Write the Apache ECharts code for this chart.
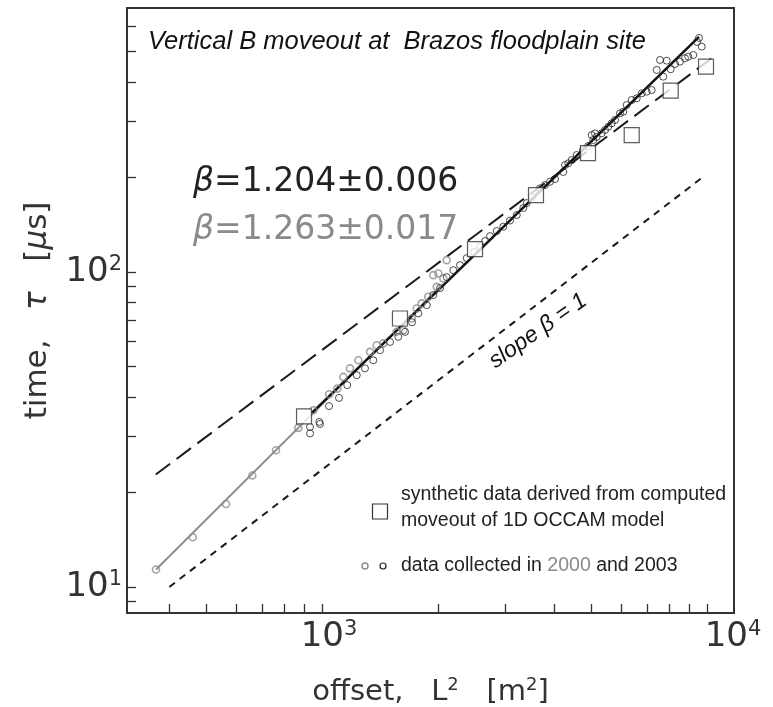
<!DOCTYPE html>
<html>
<head>
<meta charset="utf-8">
<script src="https://cdn.jsdelivr.net/npm/echarts@6.0.0/dist/echarts.min.js"></script>
<style>
html,body{margin:0;padding:0;background:#fff;}
#main{width:773px;height:707px;}
</style>
</head>
<body>
<div id="main"></div>
<script>
// ---- data (offset L^2 [m^2], time tau [us]) ----
const data2000 = [
  [370.5,11.36],[461.6,14.38],[563.2,18.34],[659.2,22.58],[759.5,27.16],[867.8,31.98],
  [949.3,36.39],[1043,40.9],[1096,42.6],[1136,46.4],[1182,49.4],[1243,52.4],[1333,55.7],
  [1387,58.5],[1443,59.3],[1563,64.5],[1627,65.3],[1710,71.1],[1762,76.5],[1815,79.4],
  [1888,83.3],[1946,97.6],[1986,89.6],[2005,98.8],[2066,95.3],[2108,108.9]
];
const data2003 = [
  [931,32.2],[931,30.7],[984,33.4],[988,32.9],[1043,37.5],[1107,39.8],[1163,43.7],[1231,47.0],
  [1293,49.4],[1359,52.4],[1415,56.4],[1502,59.9],[1578,62.2],[1643,64.5],[1713,69.2],[1779,73.8],
  [1871,78.4],[1946,84.4],[2025,88.8],[2108,96.2],[2193,101.2],[2283,105.0],[2376,110.5],[2482,115.5],
  [2573,120.1],[2651,125.2],[2731,129.8],[2843,134.7],[2957,139.0],[3078,145.4],[3205,151.4],[3333,159.3],
  [3402,165.2],[3511,172.6],[3683,184.0],[3795,188.5],[3910,193.1],[4029,196.9],[4234,207.3],[4277,218.1],
  [4362,220.9],[4452,226.2],[4587,234.7],[4763,243.4],[4908,250.6],[5017,271.6],[5066,261.9],[5117,275.0],
  [5170,267.7],[5327,275.0],[5433,281.7],[5541,288.6],[5655,295.9],[5768,303.1],[5943,318.3],[6061,322.1],
  [6186,338.2],[6374,350.8],[6567,355.2],[6767,368.4],[6972,372.8],[7184,377.4],[7402,436.9],[7550,469.9],
  [7700,416.0],[7858,467.5],[8048,439.1],[8258,456.4],[8508,464.2],[8766,475.8],[8941,481.4],[9212,487.4],
  [9420,536.2],[9532,552.0],[9687,518.1]
];
const syntheticOccam = [
  [898,34.8],[1594,71.1],[2497,118.1],[3596,175.2],[4908,238.1],[6374,271.6],[8048,375.5],[9940,447.6]
];
const fit2003 = [[940,35.6],[9532,556]];
const fit2000 = [[370.5,11.36],[2025,89.6]];
const upperDashed = [[369.9,22.74],[10553,487.4]];
const slopeOne = [[401.3,10],[9781,200.3]];

const xTickValues = [400,500,600,700,800,900,1000,2000,3000,4000,5000,6000,7000,8000,9000,10000];
const yTickValues = [9,10,20,30,40,50,60,70,80,90,100,200,300,400,500,600];
const xLabelValues = [1000,10000];
const yLabelValues = [10,100];

const titleText = 'Vertical B moveout at  Brazos floodplain site';
const beta2003 = '1.204±0.006';
const beta2000 = '1.263±0.017';

const chart = echarts.init(document.getElementById('main'), null, {renderer:'canvas'});
const FF = '"DejaVu Sans", sans-serif';
const FI = '"Liberation Sans", Arial, sans-serif';

function supLabel(v, axis){
  const e = Math.round(Math.log10(v));
  if (axis === 'x') {
    return (e === 4 ? '{b4|10}' : '{b3|10}') + '{s|' + e + '}';
  }
  return '{b|10}{s|' + e + '}';
}
const labelRich = {
  b: {fontFamily: FF, fontSize: 34, color: '#333', lineHeight: 36},
  b3: {fontFamily: FF, fontSize: 34, color: '#333', lineHeight: 36, padding: [0,0,0,14]},
  b4: {fontFamily: FF, fontSize: 34, color: '#333', lineHeight: 36, padding: [0,0,0,52]},
  s: {fontFamily: FF, fontSize: 21, color: '#333', lineHeight: 21, verticalAlign: 'top'}
};

const option = {
  animation: false,
  backgroundColor: '#fff',
  grid: {left: 127, right: 39, top: 8, bottom: 94, outerBoundsMode: 'none', containLabel: false,
    show: true, borderColor: '#333', borderWidth: 2, backgroundColor: 'transparent'},
  xAxis: {
    type: 'log', logBase: 10, min: 311.5, max: 11752,
    axisLine: {show: true, lineStyle: {color: '#333', width: 2}},
    axisTick: {show: true, inside: true, length: 9, lineStyle: {color: '#333', width: 1.3}, customValues: xTickValues},
    axisLabel: {show: true, customValues: xLabelValues, margin: 6, formatter: v => supLabel(v, 'x'), rich: labelRich},
    splitLine: {show: false}, minorTick: {show: false},
    name: '{n|offset,   L}{s|2}{n|   [m}{s|2}{n|]}',
    nameLocation: 'middle', nameGap: 63,
    nameTextStyle: {rich: {
      n: {fontFamily: FF, fontSize: 29, color: '#333', lineHeight: 32},
      s: {fontFamily: FF, fontSize: 18, color: '#333', lineHeight: 18, verticalAlign: 'top'}
    }}
  },
  yAxis: {
    type: 'log', logBase: 10, min: 8.27, max: 687,
    axisLine: {show: true, lineStyle: {color: '#333', width: 2}},
    axisTick: {show: true, inside: true, length: 9, lineStyle: {color: '#333', width: 1.3}, customValues: yTickValues},
    axisLabel: {show: true, customValues: yLabelValues, margin: 5, formatter: v => supLabel(v, 'y'), rich: labelRich},
    splitLine: {show: false}, minorTick: {show: false},
    name: '{n|time,   }{i|τ}{n|   [}{i|μ}{n|s]}',
    nameLocation: 'middle', nameGap: 72,
    nameTextStyle: {rich: {
      n: {fontFamily: FF, fontSize: 31, color: '#333', lineHeight: 34},
      i: {fontFamily: FF, fontSize: 31, color: '#333', lineHeight: 34, fontStyle: 'italic'}
    }}
  },
  series: [
    {type: 'line', data: slopeOne, symbol: 'none', lineStyle: {color: '#1a1a1a', width: 2, type: [7,6]}, z: 2},
    {type: 'line', data: upperDashed, symbol: 'none', lineStyle: {color: '#1a1a1a', width: 2, type: [18,8]}, z: 2},
    {type: 'line', data: fit2000, symbol: 'none', lineStyle: {color: '#8f8f8f', width: 2}, z: 3},
    {type: 'line', data: fit2003, symbol: 'none', lineStyle: {color: '#111', width: 2.5}, z: 3},
    {type: 'scatter', data: data2000, symbol: 'circle', symbolSize: 7,
      itemStyle: {color: 'rgba(255,255,255,0)', borderColor: '#8c8c8c', borderWidth: 1.6}, z: 4},
    {type: 'scatter', data: data2003, symbol: 'circle', symbolSize: 7,
      itemStyle: {color: 'rgba(255,255,255,0)', borderColor: '#222', borderWidth: 1}, z: 5},
    {type: 'scatter', data: syntheticOccam, symbol: 'rect', symbolSize: 15,
      itemStyle: {color: '#fff', borderColor: '#333', borderWidth: 1.2}, z: 6}
  ],
  graphic: [
    {type: 'text', x: 148, y: 42, z: 10, style: {text: titleText, fontFamily: FI, fontSize: 25.5, fontStyle: 'italic', fill: '#111', verticalAlign: 'middle'}},
    {type: 'text', x: 193, y: 182, z: 10, style: {text: '{i|β}{t|=' + beta2003 + '}', verticalAlign: 'middle',
      rich: {i: {fontFamily: FF, fontSize: 33, fontStyle: 'italic', fill: '#222'}, t: {fontFamily: FF, fontSize: 33, fill: '#222'}}}},
    {type: 'text', x: 193, y: 230, z: 10, style: {text: '{i|β}{t|=' + beta2000 + '}', verticalAlign: 'middle',
      rich: {i: {fontFamily: FF, fontSize: 33, fontStyle: 'italic', fill: '#8a8a8a'}, t: {fontFamily: FF, fontSize: 33, fill: '#8a8a8a'}}}},
    {type: 'text', x: 538, y: 331, rotation: 35 * Math.PI / 180, z: 10,
      style: {text: 'slope β = 1', fontFamily: FI, fontSize: 23, fontStyle: 'italic', fill: '#111', align: 'center', verticalAlign: 'middle'}},
    {type: 'rect', z: 10, shape: {x: 372.5, y: 504, width: 15, height: 15}, style: {fill: '#fff', stroke: '#333', lineWidth: 1.2}},
    {type: 'text', x: 401, y: 495, z: 10, style: {text: 'synthetic data derived from computed', fontFamily: FI, fontSize: 19.5, fill: '#222', verticalAlign: 'middle'}},
    {type: 'text', x: 401, y: 521, z: 10, style: {text: 'moveout of 1D OCCAM model', fontFamily: FI, fontSize: 19.5, fill: '#222', verticalAlign: 'middle'}},
    {type: 'circle', z: 10, shape: {cx: 365, cy: 566, r: 3}, style: {fill: 'none', stroke: '#8c8c8c', lineWidth: 1.5}},
    {type: 'circle', z: 10, shape: {cx: 383, cy: 566, r: 3}, style: {fill: 'none', stroke: '#222', lineWidth: 1.2}},
    {type: 'text', x: 401, y: 566, z: 10, style: {text: '{t|data collected in }{g|2000}{t| and 2003}', verticalAlign: 'middle',
      rich: {t: {fontFamily: FI, fontSize: 19.5, fill: '#222'}, g: {fontFamily: FI, fontSize: 19.5, fill: '#8a8a8a'}}}}
  ]
};
chart.setOption(option);
</script>
</body>
</html>
